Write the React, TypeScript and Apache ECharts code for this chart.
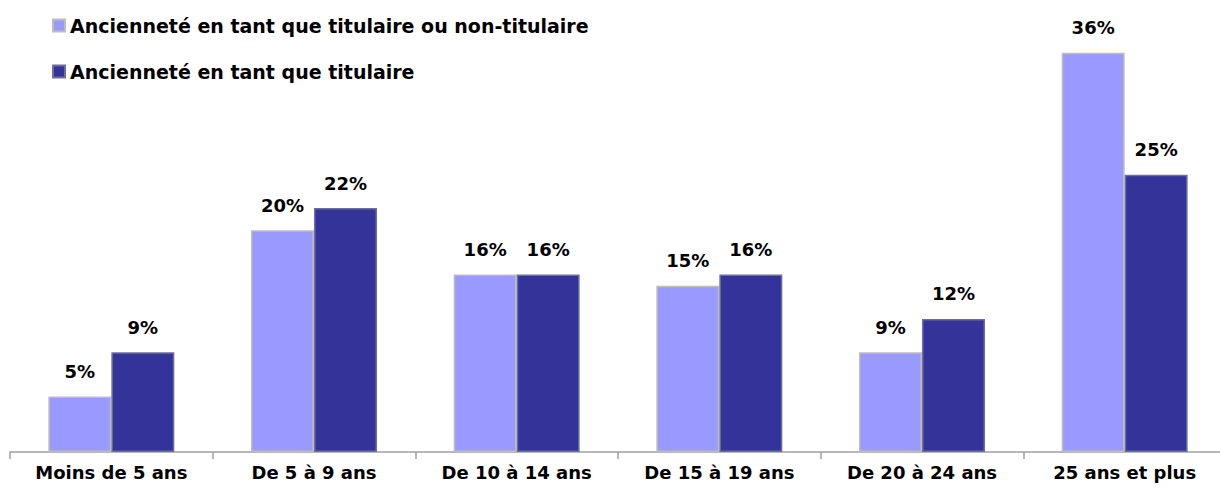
import React, { useEffect, useRef } from "react";
import * as echarts from "echarts";

const categories = [
  "Moins de 5 ans",
  "De 5 à 9 ans",
  "De 10 à 14 ans",
  "De 15 à 19 ans",
  "De 20 à 24 ans",
  "25 ans et plus",
];
const seriesNames = [
  "Ancienneté en tant que titulaire ou non-titulaire",
  "Ancienneté en tant que titulaire",
];
const titulaireOuNon = [5, 20, 16, 15, 9, 36];
const titulaire = [9, 22, 16, 16, 12, 25];

const FONT = "'DejaVu Sans', 'Liberation Sans', Arial, sans-serif";

export default function App() {
  const ref = useRef<HTMLDivElement>(null);
  useEffect(() => {
    if (!ref.current) return;
    const chart = echarts.init(ref.current, undefined, { renderer: "svg" });
    const label = {
      show: true,
      position: "top",
      distance: 16,
      formatter: "{c}%",
      color: "#000",
      fontFamily: FONT,
      fontWeight: "bold",
      fontSize: 18,
    };
    chart.setOption({
      animation: false,
      backgroundColor: "#fff",
      legend: {
        orient: "vertical",
        left: 47,
        top: 11,
        itemGap: 27,
        itemWidth: 12,
        itemHeight: 12,
        icon: "rect",
        textStyle: {
          color: "#000",
          fontFamily: FONT,
          fontWeight: "bold",
          fontSize: 19,
        },
        data: seriesNames,
      },
      grid: { left: 10, width: 1216, top: 8.4, bottom: 41, containLabel: false },
      xAxis: {
        type: "category",
        data: categories,
        boundaryGap: true,
        axisLine: { lineStyle: { color: "#A0A0A0", width: 1.5 } },
        axisTick: { show: true, length: 7, lineStyle: { color: "#A0A0A0", width: 1.5 } },
        axisLabel: {
          color: "#000",
          fontFamily: FONT,
          fontWeight: "bold",
          fontSize: 18,
          margin: 11,
          interval: 0,
        },
      },
      yAxis: {
        type: "value",
        min: 0,
        max: 40,
        show: false,
        splitLine: { show: false },
      },
      series: [
        {
          name: seriesNames[0],
          type: "bar",
          data: titulaireOuNon,
          barWidth: 63,
          barGap: "0%",
          itemStyle: { color: "#9999FF", borderColor: "#BDBDBD", borderWidth: 1.5 },
          label,
        },
        {
          name: seriesNames[1],
          type: "bar",
          data: titulaire,
          barWidth: 63,
          barGap: "0%",
          itemStyle: { color: "#333399", borderColor: "#6E6E9E", borderWidth: 1.5 },
          label,
        },
      ],
    });
    return () => chart.dispose();
  }, []);
  return (
    <div
      style={{
        position: "fixed",
        left: 0,
        top: 0,
        width: 1220,
        height: 493,
        overflow: "hidden",
        background: "#fff",
      }}
    >
      <div ref={ref} style={{ width: 1240, height: 493 }} />
    </div>
  );
}
